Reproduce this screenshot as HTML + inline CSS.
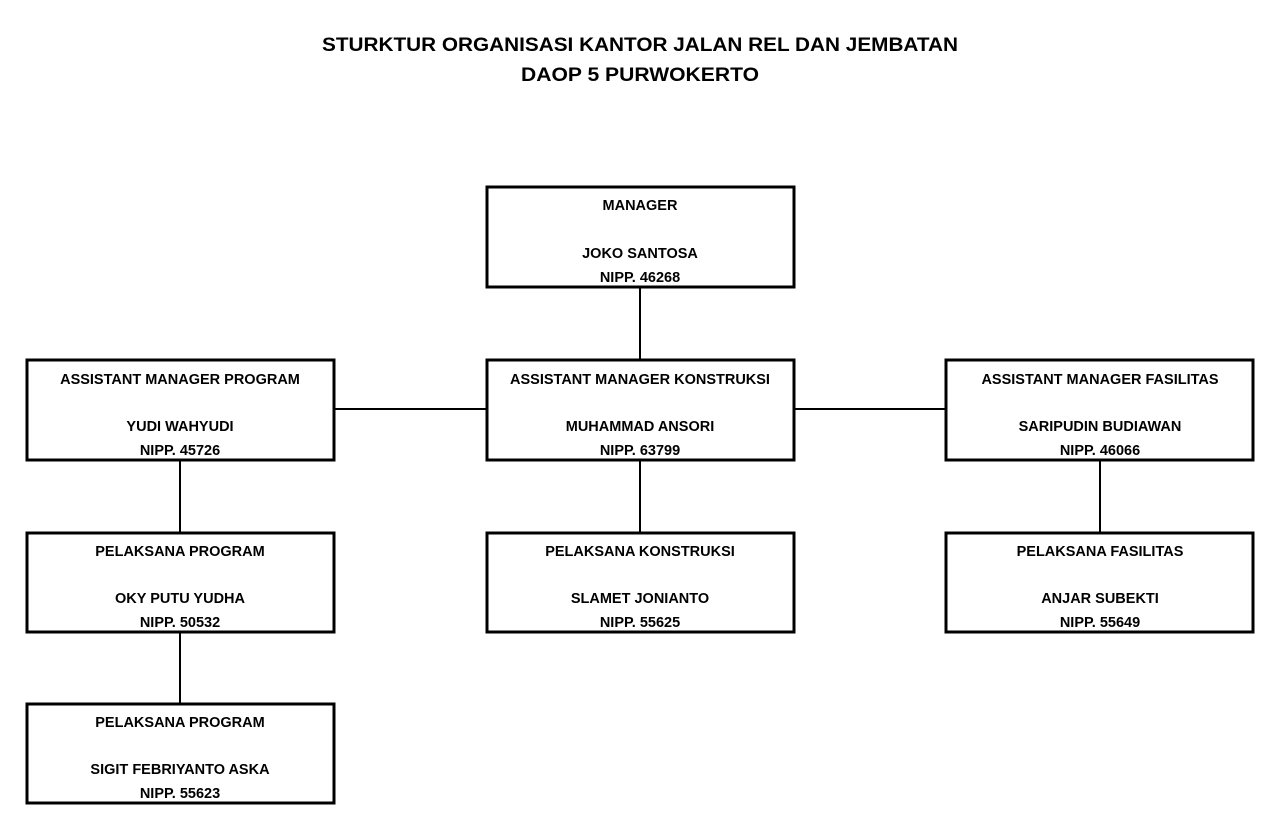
<!DOCTYPE html>
<html><head><meta charset="utf-8"><style>
html,body{margin:0;padding:0;background:#fff;}
svg{display:block;}
text{font-family:"Liberation Sans",Arial,sans-serif;font-weight:bold;fill:#000;text-anchor:middle;}
.t{font-size:19px;}
.b{font-size:14.5px;}
rect{fill:#fff;stroke:#000;stroke-width:3;}
line{stroke:#000;stroke-width:2;}
</style></head><body>
<svg width="1280" height="828" viewBox="0 0 1280 828">
<text class="t" x="640" y="51" textLength="636" lengthAdjust="spacingAndGlyphs">STURKTUR ORGANISASI KANTOR JALAN REL DAN JEMBATAN</text>
<text class="t" x="640" y="81" textLength="238" lengthAdjust="spacingAndGlyphs">DAOP 5 PURWOKERTO</text>

<line x1="640" y1="287" x2="640" y2="360"/>
<line x1="334" y1="409" x2="487" y2="409"/>
<line x1="794" y1="409" x2="946" y2="409"/>
<line x1="180" y1="460" x2="180" y2="533"/>
<line x1="640" y1="460" x2="640" y2="533"/>
<line x1="1100" y1="460" x2="1100" y2="533"/>
<line x1="180" y1="632" x2="180" y2="704"/>

<rect x="487" y="187" width="307" height="100"/>
<text class="b" x="640" y="210">MANAGER</text>
<text class="b" x="640" y="258">JOKO SANTOSA</text>
<text class="b" x="640" y="282">NIPP. 46268</text>

<rect x="27" y="360" width="307" height="100"/>
<text class="b" x="180" y="384">ASSISTANT MANAGER PROGRAM</text>
<text class="b" x="180" y="431">YUDI WAHYUDI</text>
<text class="b" x="180" y="455">NIPP. 45726</text>

<rect x="487" y="360" width="307" height="100"/>
<text class="b" x="640" y="384">ASSISTANT MANAGER KONSTRUKSI</text>
<text class="b" x="640" y="431">MUHAMMAD ANSORI</text>
<text class="b" x="640" y="455">NIPP. 63799</text>

<rect x="946" y="360" width="307" height="100"/>
<text class="b" x="1100" y="384">ASSISTANT MANAGER FASILITAS</text>
<text class="b" x="1100" y="431">SARIPUDIN BUDIAWAN</text>
<text class="b" x="1100" y="455">NIPP. 46066</text>

<rect x="27" y="533" width="307" height="99"/>
<text class="b" x="180" y="556">PELAKSANA PROGRAM</text>
<text class="b" x="180" y="603">OKY PUTU YUDHA</text>
<text class="b" x="180" y="627">NIPP. 50532</text>

<rect x="487" y="533" width="307" height="99"/>
<text class="b" x="640" y="556">PELAKSANA KONSTRUKSI</text>
<text class="b" x="640" y="603">SLAMET JONIANTO</text>
<text class="b" x="640" y="627">NIPP. 55625</text>

<rect x="946" y="533" width="307" height="99"/>
<text class="b" x="1100" y="556">PELAKSANA FASILITAS</text>
<text class="b" x="1100" y="603">ANJAR SUBEKTI</text>
<text class="b" x="1100" y="627">NIPP. 55649</text>

<rect x="27" y="704" width="307" height="99"/>
<text class="b" x="180" y="727">PELAKSANA PROGRAM</text>
<text class="b" x="180" y="774">SIGIT FEBRIYANTO ASKA</text>
<text class="b" x="180" y="798">NIPP. 55623</text>
</svg>
</body></html>
